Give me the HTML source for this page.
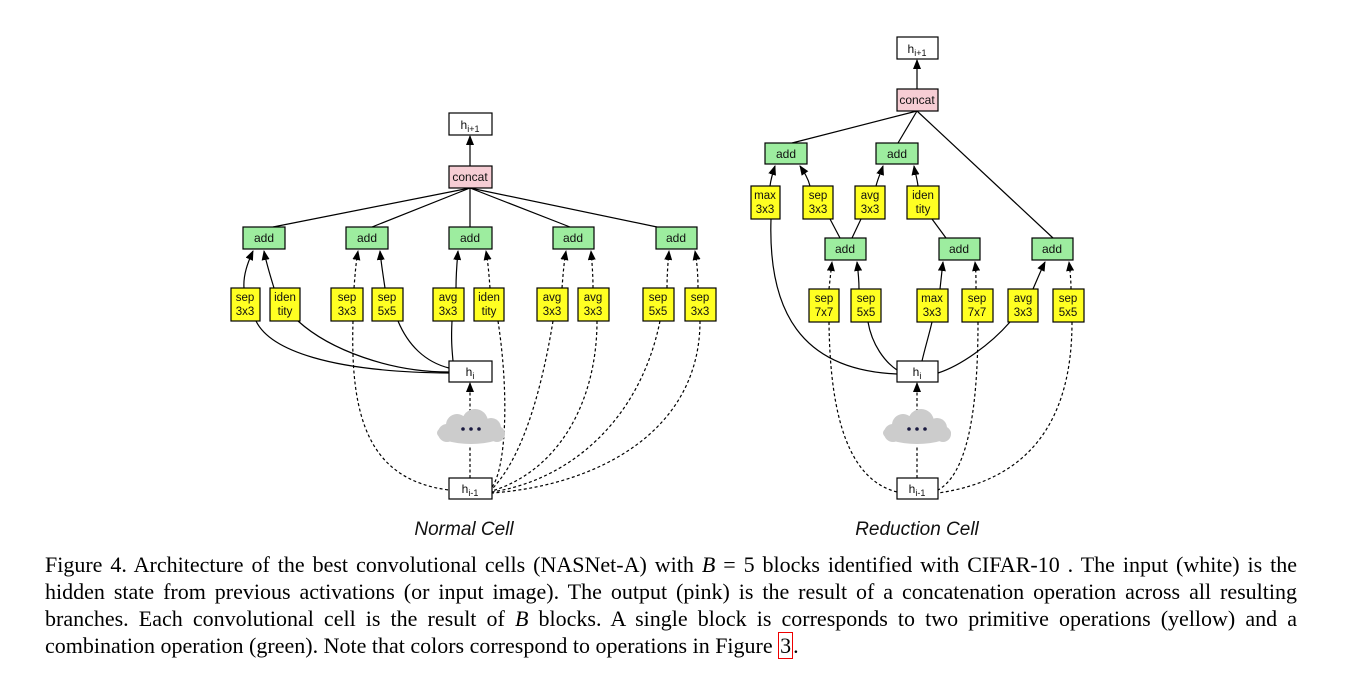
<!DOCTYPE html>
<html><head><meta charset="utf-8"><style>
html,body{margin:0;padding:0;background:#fff;}
body{width:1362px;height:682px;overflow:hidden;position:relative;}
svg{position:absolute;left:0;top:0;}
.cap{position:absolute;left:45px;width:1252px;font-family:"Liberation Serif",serif;font-size:22px;line-height:27px;color:#000;text-align:justify;text-align-last:justify;white-space:nowrap;}
.cap.last{text-align-last:left;}
.red{border:1px solid #e00;padding:0 1px;}
</style></head><body>
<svg width="1362" height="682" viewBox="0 0 1362 682" font-family="Liberation Sans, sans-serif">
<defs>
<marker id="ar" markerWidth="10" markerHeight="8" refX="9" refY="4" orient="auto" markerUnits="userSpaceOnUse">
<path d="M0,0 L10,4 L0,8 z" fill="#000"/></marker>
<g id="cloud"><g fill="#cccccc">
<ellipse cx="0" cy="4" rx="34" ry="11"/><circle cx="-14" cy="-4" r="11"/><circle cx="4" cy="-7" r="13"/><circle cx="20" cy="-1" r="10"/><circle cx="-24" cy="4" r="9"/><circle cx="26" cy="5" r="8"/>
</g><g fill="#1a1a40"><circle cx="-8" cy="0" r="1.8"/><circle cx="0" cy="0" r="1.8"/><circle cx="8" cy="0" r="1.8"/></g></g>
</defs>
<g stroke="#000" stroke-width="1.2" fill="none">
<line x1="470" y1="166" x2="470" y2="136" marker-end="url(#ar)"/>
<line x1="470" y1="188" x2="273" y2="227"/>
<line x1="470" y1="188" x2="372" y2="227"/>
<line x1="470" y1="188" x2="470" y2="227"/>
<line x1="470" y1="188" x2="570" y2="227"/>
<line x1="470" y1="188" x2="657" y2="227"/>
<path d="M244,288 C243,275 248,262 253,251" marker-end="url(#ar)"/>
<path d="M274,288 C270,275 266,262 264,251" marker-end="url(#ar)"/>
<path d="M385,288 C383,275 381,262 380,251" marker-end="url(#ar)"/>
<path d="M456,288 C456,275 457,262 458,251" marker-end="url(#ar)"/>
<path d="M256,321 C270,350 330,372 449,373"/>
<path d="M298,321 C330,350 390,372 449,372"/>
<path d="M398,321 C408,345 425,362 449,368"/>
<path d="M452,321 C451,340 452,350 453,361"/>
<g stroke-dasharray="3,2.5">
<path d="M354,288 C355,275 356,262 358,251" marker-end="url(#ar)"/>
<path d="M490,288 C489,275 488,262 486,251" marker-end="url(#ar)"/>
<path d="M562,288 C563,275 564,262 566,251" marker-end="url(#ar)"/>
<path d="M593,288 C593,275 592,262 591,251" marker-end="url(#ar)"/>
<path d="M667,288 C667,275 668,262 669,251" marker-end="url(#ar)"/>
<path d="M698,288 C698,275 697,262 695,251" marker-end="url(#ar)"/>
<path d="M353,321 C350,420 370,480 449,490"/>
<path d="M498,321 C510,400 505,470 492,487"/>
<path d="M553,321 C540,400 520,460 492,489"/>
<path d="M597,321 C597,400 560,470 492,491"/>
<path d="M660,321 C640,420 570,480 492,492"/>
<path d="M700,321 C700,430 600,485 492,493"/>
<line x1="470" y1="478" x2="470" y2="445"/>
<line x1="470" y1="412" x2="470" y2="383" marker-end="url(#ar)"/>
</g>
<line x1="917" y1="89" x2="917" y2="60" marker-end="url(#ar)"/>
<line x1="917" y1="111" x2="792" y2="143"/>
<line x1="917" y1="111" x2="898" y2="143"/>
<line x1="917" y1="111" x2="1053" y2="238"/>
<path d="M770,186 C771,178 773,172 775,166" marker-end="url(#ar)"/>
<path d="M810,186 C808,178 804,172 800,166" marker-end="url(#ar)"/>
<path d="M876,186 C878,178 881,172 883,166" marker-end="url(#ar)"/>
<path d="M918,186 C917,178 915,172 914,166" marker-end="url(#ar)"/>
<line x1="830" y1="219" x2="840" y2="238"/>
<line x1="861" y1="219" x2="852" y2="238"/>
<line x1="932" y1="219" x2="946" y2="238"/>
<path d="M859,289 C859,280 858,270 857,262" marker-end="url(#ar)"/>
<path d="M940,289 C941,280 942,270 943,262" marker-end="url(#ar)"/>
<path d="M1033,289 C1037,280 1041,270 1045,262" marker-end="url(#ar)"/>
<path d="M771,219 C768,310 800,370 897,374"/>
<path d="M868,322 C872,345 885,362 897,370"/>
<path d="M932,322 C929,335 925,348 922,361"/>
<path d="M1010,322 C990,345 960,366 938,373"/>
<g stroke-dasharray="3,2.5">
<path d="M829,289 C830,280 831,270 832,262" marker-end="url(#ar)"/>
<path d="M976,289 C976,280 976,270 975,262" marker-end="url(#ar)"/>
<path d="M1071,289 C1071,280 1070,270 1069,262" marker-end="url(#ar)"/>
<path d="M829,322 C830,420 850,480 897,492"/>
<path d="M978,322 C978,420 965,475 938,490"/>
<path d="M1072,322 C1072,420 1030,480 938,493"/>
<line x1="917" y1="478" x2="917" y2="445"/>
<line x1="917" y1="412" x2="917" y2="383" marker-end="url(#ar)"/>
</g>
</g>
<use href="#cloud" x="471" y="429"/>
<use href="#cloud" x="917" y="429"/>
<g stroke="#000" stroke-width="1.2" font-size="12" text-anchor="middle" fill="#111">
<g fill="#fff"><rect x="449" y="113" width="43" height="22"/><rect x="449" y="361" width="43" height="21"/><rect x="449" y="478" width="43" height="21"/>
<rect x="897" y="37" width="41" height="22"/><rect x="897" y="361" width="41" height="21"/><rect x="897" y="478" width="41" height="21"/></g>
<g fill="#f6cdd4"><rect x="449" y="166" width="43" height="22"/><rect x="897" y="89" width="41" height="22"/></g>
<g fill="#9ded9f">
<rect x="243" y="227" width="42" height="22"/><rect x="346" y="227" width="42" height="22"/><rect x="449" y="227" width="43" height="22"/><rect x="553" y="227" width="41" height="22"/><rect x="656" y="227" width="41" height="22"/>
<rect x="765" y="143" width="42" height="21"/><rect x="876" y="143" width="42" height="21"/><rect x="825" y="238" width="41" height="22"/><rect x="939" y="238" width="41" height="22"/><rect x="1032" y="238" width="41" height="22"/></g>
<g fill="#ffff22">
<rect x="231" y="288" width="29" height="33"/><rect x="270" y="288" width="30" height="33"/><rect x="331" y="288" width="32" height="33"/><rect x="372" y="288" width="31" height="33"/><rect x="433" y="288" width="31" height="33"/><rect x="474" y="288" width="30" height="33"/><rect x="537" y="288" width="31" height="33"/><rect x="578" y="288" width="31" height="33"/><rect x="643" y="288" width="31" height="33"/><rect x="685" y="288" width="31" height="33"/>
<rect x="751" y="186" width="29" height="33"/><rect x="803" y="186" width="30" height="33"/><rect x="855" y="186" width="30" height="33"/><rect x="907" y="186" width="32" height="33"/>
<rect x="809" y="289" width="30" height="33"/><rect x="851" y="289" width="30" height="33"/><rect x="917" y="289" width="31" height="33"/><rect x="962" y="289" width="31" height="33"/><rect x="1008" y="289" width="30" height="33"/><rect x="1053" y="289" width="31" height="33"/></g>
</g>
<g font-size="12" text-anchor="middle" fill="#111">
<text x="470" y="129">h<tspan font-size="9" dy="3">i+1</tspan></text>
<text x="470" y="376">h<tspan font-size="9" dy="3">i</tspan></text>
<text x="470" y="493">h<tspan font-size="9" dy="3">i-1</tspan></text>
<text x="917" y="53">h<tspan font-size="9" dy="3">i+1</tspan></text>
<text x="917" y="376">h<tspan font-size="9" dy="3">i</tspan></text>
<text x="917" y="493">h<tspan font-size="9" dy="3">i-1</tspan></text>
<text x="470" y="181">concat</text><text x="917" y="104">concat</text>
<text x="264" y="242">add</text><text x="367" y="242">add</text><text x="470" y="242">add</text><text x="573" y="242">add</text><text x="676" y="242">add</text>
<text x="786" y="158">add</text><text x="897" y="158">add</text><text x="845" y="253">add</text><text x="959" y="253">add</text><text x="1052" y="253">add</text>
<g font-size="11.5">
<text x="245" y="301">sep</text><text x="245" y="315">3x3</text>
<text x="285" y="301">iden</text><text x="285" y="315">tity</text>
<text x="347" y="301">sep</text><text x="347" y="315">3x3</text>
<text x="387" y="301">sep</text><text x="387" y="315">5x5</text>
<text x="448" y="301">avg</text><text x="448" y="315">3x3</text>
<text x="489" y="301">iden</text><text x="489" y="315">tity</text>
<text x="552" y="301">avg</text><text x="552" y="315">3x3</text>
<text x="593" y="301">avg</text><text x="593" y="315">3x3</text>
<text x="658" y="301">sep</text><text x="658" y="315">5x5</text>
<text x="700" y="301">sep</text><text x="700" y="315">3x3</text>
<text x="765" y="199">max</text><text x="765" y="213">3x3</text>
<text x="818" y="199">sep</text><text x="818" y="213">3x3</text>
<text x="870" y="199">avg</text><text x="870" y="213">3x3</text>
<text x="923" y="199">iden</text><text x="923" y="213">tity</text>
<text x="824" y="302">sep</text><text x="824" y="316">7x7</text>
<text x="866" y="302">sep</text><text x="866" y="316">5x5</text>
<text x="932" y="302">max</text><text x="932" y="316">3x3</text>
<text x="977" y="302">sep</text><text x="977" y="316">7x7</text>
<text x="1023" y="302">avg</text><text x="1023" y="316">3x3</text>
<text x="1068" y="302">sep</text><text x="1068" y="316">5x5</text>
</g>
<text x="464" y="535" font-size="19" font-style="italic">Normal Cell</text>
<text x="917" y="535" font-size="19" font-style="italic">Reduction Cell</text>
</g>
</svg>
<div class="cap" style="top:551px">Figure 4. Architecture of the best convolutional cells (NASNet-A) with <i>B</i> = 5 blocks identified with CIFAR-10 . The input (white) is the</div>
<div class="cap" style="top:578px">hidden state from previous activations (or input image). The output (pink) is the result of a concatenation operation across all resulting</div>
<div class="cap" style="top:605px">branches. Each convolutional cell is the result of <i>B</i> blocks. A single block is corresponds to two primitive operations (yellow) and a</div>
<div class="cap last" style="top:632px">combination operation (green). Note that colors correspond to operations in Figure <span class="red">3</span>.</div>
</body></html>
